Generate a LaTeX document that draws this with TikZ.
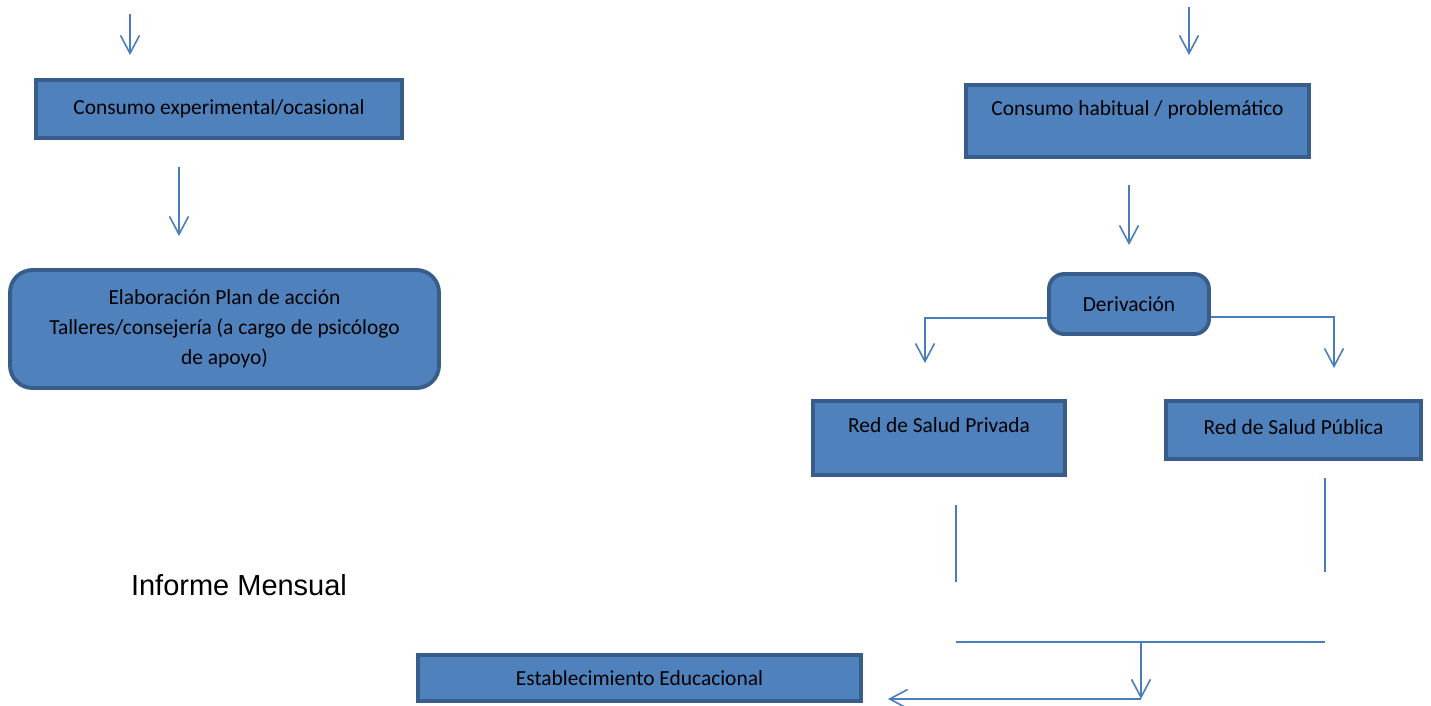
\documentclass[tikz,border=0pt]{standalone}
\usepackage{fontspec}
\setmainfont{Carlito}
\newfontfamily\arialfont{Liberation Sans}
\usetikzlibrary{arrows.meta,positioning}
\definecolor{boxfill}{RGB}{79,129,189}
\definecolor{boxline}{RGB}{56,93,138}
\definecolor{arrowblue}{RGB}{74,126,187}

\begin{document}
\begin{tikzpicture}[>={Straight Barb[length=3.6mm,width=3.8mm]},
  box/.style={draw=boxline,fill=boxfill,line width=2.2pt,rectangle,align=center,inner sep=2pt,font=\fontsize{12.2}{17}\selectfont},
  rbox/.style={box,rounded corners=0.45cm},
  flow/.style={->,draw=arrowblue,line width=0.9pt},
  link/.style={draw=arrowblue,line width=0.9pt}]
\useasboundingbox (0,0) rectangle (28.62,-14.1);

% left column
\node[box,minimum width=7.32cm,minimum height=1.16cm] (ocas) at (4.38,-2.18) {Consumo experimental/ocasional};
\node[rbox,minimum width=8.58cm,minimum height=2.36cm] (plan) at (4.49,-6.58) {Elaboración Plan de acción\\Talleres/consejería (a cargo de psicólogo\\de apoyo)};
\node[font=\arialfont\fontsize{16.5}{20}\selectfont] (informe) at (4.78,-11.7) {Informe Mensual};

% right column
\node[box,minimum width=6.86cm,minimum height=1.44cm,text depth=0.5cm] (habit) at (22.75,-2.42) {Consumo habitual / problemático};
\node[rbox,rounded corners=0.3cm,minimum width=3.2cm,minimum height=1.2cm] (deriv) at (22.58,-6.08) {Derivación};
\node[box,minimum width=5.04cm,minimum height=1.48cm,text depth=0.5cm] (priv) at (18.78,-8.76) {Red de Salud Privada};
\node[box,minimum width=5.1cm,minimum height=1.16cm,text depth=0.12cm] (publ) at (25.87,-8.6) {Red de Salud Pública};
\node[box,minimum width=8.86cm,minimum height=0.92cm] (educ) at (12.79,-13.56) {Establecimiento Educacional};

% free ends
\coordinate (inL) at (2.6,-0.28);
\coordinate (inR) at (23.78,-0.14);
\coordinate (midL) at (3.58,0);
\coordinate (dropP) at (18.5,0);
\coordinate (dropQ) at (26.68,0);
\coordinate (privEnd) at (19.12,-11.64);
\coordinate (publEnd) at (26.5,-11.44);
\coordinate (joinL) at (19.12,-12.84);
\coordinate (joinR) at (26.5,-12.84);
\coordinate (joinM) at (22.82,-12.84);
\coordinate (turn) at (22.82,-13.98);

\draw[flow,shorten >=0.46cm] (inL) -- (inL |- ocas.north);
\draw[flow,shorten <=0.54cm,shorten >=0.64cm] (midL |- ocas.south) -- (midL |- plan.north);
\draw[flow,shorten >=0.56cm] (inR) -- (inR |- habit.north);
\draw[flow,shorten <=0.52cm,shorten >=0.54cm] (habit.south -| deriv.north) -- (deriv.north);
\draw[flow,shorten >=0.72cm] ([yshift=-0.28cm]deriv.west) -| (dropP |- priv.north);
\draw[flow,shorten >=0.62cm] ([yshift=-0.26cm]deriv.east) -| (dropQ |- publ.north);
\draw[link,shorten <=0.56cm] (privEnd |- priv.south) -- (privEnd);
\draw[link,shorten <=0.34cm] (publEnd |- publ.south) -- (publEnd);
\draw[link,line width=1.3pt] (joinL) -- (joinR);
\draw[flow] (joinM) -- (turn);
\draw[flow,shorten >=0.5cm] (turn) -- (turn -| educ.east);

\end{tikzpicture}
\end{document}
